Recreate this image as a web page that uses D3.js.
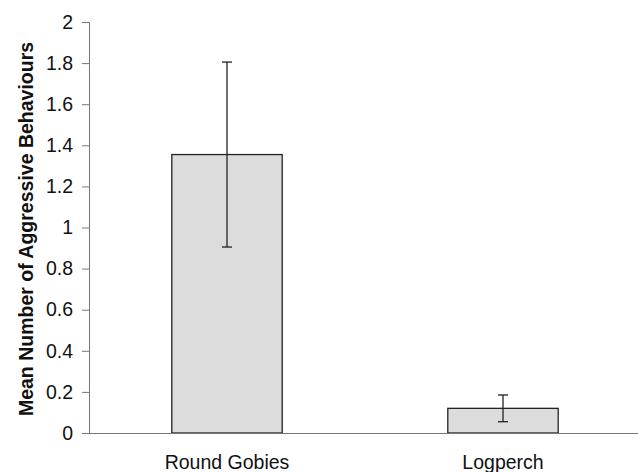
<!DOCTYPE html>
<html>
<head>
<meta charset="utf-8">
<script src="https://cdn.jsdelivr.net/npm/d3@7"></script>
<style>
  body { margin: 0; background: #fff; }
  svg text { font-family: "Liberation Sans", Arial, sans-serif; fill: #111; }
</style>
</head>
<body>
<svg id="chart" width="638" height="472"></svg>
<script>
const categories = ['Round Gobies', 'Logperch'];
const means = [1.355, 0.12];
const errors = [0.45, 0.065];
const yTicks = [0, 0.2, 0.4, 0.6, 0.8, 1, 1.2, 1.4, 1.6, 1.8, 2];

const svg = d3.select('#chart');
const margin = { left: 89, top: 22, right: -3, bottom: 39 };
const width = 638 - margin.left - margin.right;
const height = 472 - margin.top - margin.bottom;

const g = svg.append('g').attr('transform', `translate(${margin.left},${margin.top})`);

const x = d3.scaleBand().domain(categories).range([0, width]).paddingInner(0.6).paddingOuter(0.3);
const y = d3.scaleLinear().domain([0, 2]).range([height, 0]);

// Y axis
const yAxis = g.append('g')
    .call(d3.axisLeft(y).tickValues(yTicks).tickSize(7).tickPadding(9).tickFormat(d3.format('~g')));
yAxis.select('.domain').attr('stroke', '#777');
yAxis.selectAll('.tick line').attr('stroke', '#777');
yAxis.selectAll('text').attr('font-size', '19.5px');

// Bars
g.append('g').selectAll('rect')
    .data(categories)
    .enter().append('rect')
    .attr('x', d => x(d))
    .attr('y', (d, i) => y(means[i]))
    .attr('width', x.bandwidth())
    .attr('height', (d, i) => y(0) - y(means[i]))
    .attr('fill', '#dcdcdc')
    .attr('stroke', '#222')
    .attr('stroke-width', 1.3);

// Error bars
const err = g.append('g').selectAll('g')
    .data(categories)
    .enter().append('g')
    .attr('stroke', '#222')
    .attr('stroke-width', 1.3);
err.append('line')
    .attr('x1', d => x(d) + x.bandwidth() / 2).attr('x2', d => x(d) + x.bandwidth() / 2)
    .attr('y1', (d, i) => y(means[i] + errors[i])).attr('y2', (d, i) => y(means[i] - errors[i]));
err.append('line')
    .attr('x1', d => x(d) + x.bandwidth() / 2 - 5).attr('x2', d => x(d) + x.bandwidth() / 2 + 5)
    .attr('y1', (d, i) => y(means[i] + errors[i])).attr('y2', (d, i) => y(means[i] + errors[i]));
err.append('line')
    .attr('x1', d => x(d) + x.bandwidth() / 2 - 5).attr('x2', d => x(d) + x.bandwidth() / 2 + 5)
    .attr('y1', (d, i) => y(means[i] - errors[i])).attr('y2', (d, i) => y(means[i] - errors[i]));

// X axis
const xAxis = g.append('g')
    .attr('transform', `translate(0,${height})`)
    .call(d3.axisBottom(x).tickSize(0).tickPadding(22));
xAxis.select('.domain').attr('stroke', '#777').attr('d', `M-7,0.5H${width}`);
xAxis.selectAll('text').attr('font-size', '19.5px');

// Y title
svg.append('text')
    .attr('transform', 'translate(33,229) rotate(-90)')
    .attr('text-anchor', 'middle')
    .attr('font-size', '19.5px')
    .attr('font-weight', 'bold')
    .text('Mean Number of Aggressive Behaviours');
</script>
</body>
</html>
